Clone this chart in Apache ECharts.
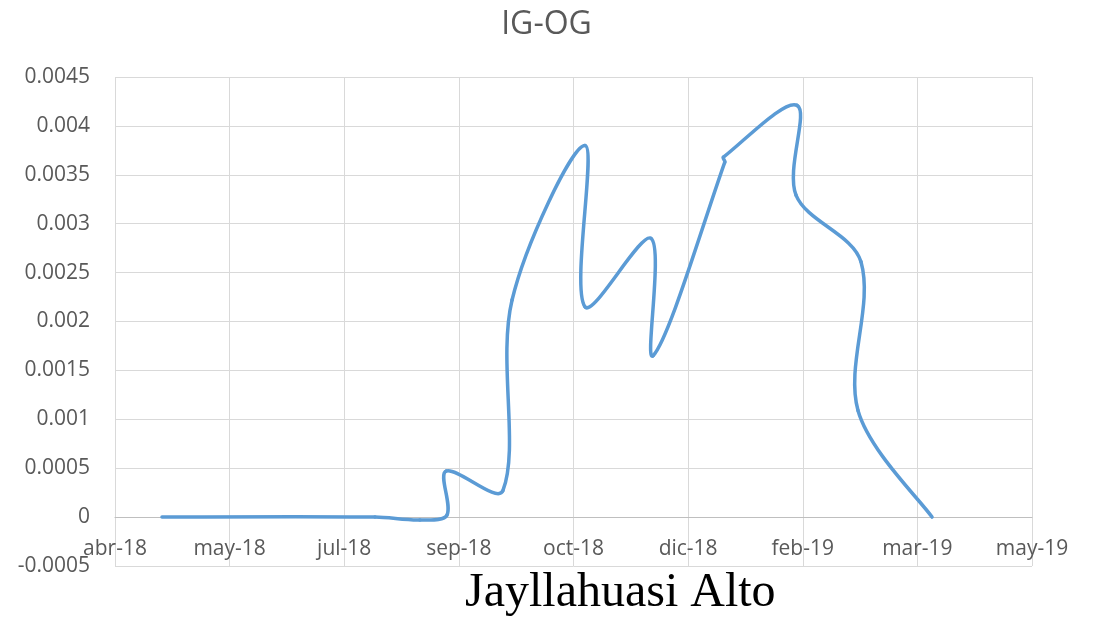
<!DOCTYPE html>
<html>
<head>
<meta charset="utf-8">
<script src="https://cdn.jsdelivr.net/npm/echarts@6/dist/echarts.min.js"></script>
<style>
  html, body { margin: 0; padding: 0; background: #fff; }
  #chart { width: 1093px; height: 619px; }
</style>
</head>
<body>
<div id="chart"></div>
<script>
// eje x: dias desde 10-abr-2018 (serial Excel 43200), paso de 50 dias
var tickLabels = ['abr-18', 'may-18', 'jul-18', 'sep-18', 'oct-18', 'dic-18', 'feb-19', 'mar-19', 'may-19'];
var days = [20.5, 113.4, 133.0, 144.8, 144.4, 169.2, 173.2, 205.0, 205.0, 233.8, 234.7, 266.0, 265.4, 297.5, 297.1, 325.4, 324.1, 356.4];
var values = [0, 0, -0.00003, 0.00002, 0.00047, 0.00027, 0.00222, 0.0038, 0.00215, 0.00285, 0.00165, 0.00363, 0.00368, 0.00421, 0.00329, 0.00261, 0.00109, 0];

var chart = echarts.init(document.getElementById('chart'));

var seriesData = [];
for (var i = 0; i < days.length - 1; i++) {
  seriesData.push([days[i], values[i]]);
}

function pt(api, j) {
  j = Math.max(0, Math.min(days.length - 1, j));
  return api.coord([days[j], values[j]]);
}
function dist(a, b) {
  return Math.sqrt((a[0] - b[0]) * (a[0] - b[0]) + (a[1] - b[1]) * (a[1] - b[1]));
}

// suavizado tipo Excel: tangente (P[i+1]-P[i-1]) repartida segun largo de tramos
function renderSeg(params, api) {
  var i = params.dataIndex;
  var p0 = pt(api, i - 1), p1 = pt(api, i), p2 = pt(api, i + 1), p3 = pt(api, i + 2);
  var s = 1 / 3;
  var a1 = dist(p0, p1), b1 = dist(p1, p2);
  var a2 = dist(p1, p2), b2 = dist(p2, p3);
  var f1 = (a1 + b1) > 0 ? s * b1 / (a1 + b1) : 0;
  var f2 = (a2 + b2) > 0 ? s * a2 / (a2 + b2) : 0;
  if (i === 0) f1 = s / 2;
  if (i === days.length - 2) f2 = s / 2;
  return {
    type: 'bezierCurve',
    shape: {
      x1: p1[0], y1: p1[1],
      x2: p2[0], y2: p2[1],
      cpx1: p1[0] + (p2[0] - p0[0]) * f1,
      cpy1: p1[1] + (p2[1] - p0[1]) * f1,
      cpx2: p2[0] - (p3[0] - p1[0]) * f2,
      cpy2: p2[1] - (p3[1] - p1[1]) * f2
    },
    style: { stroke: '#5b9bd5', lineWidth: 3.5, fill: null, lineCap: 'round' }
  };
}

var option = {
  animation: false,
  title: {
    text: 'IG-OG',
    left: 'center',
    top: 4,
    textStyle: { fontFamily: 'Open Sans', fontSize: 32, fontWeight: 'normal', color: '#595959' }
  },
  grid: { left: 115, right: 61, top: 77, bottom: 53 },
  xAxis: {
    type: 'value',
    min: 0,
    max: 400,
    interval: 50,
    offset: -49,
    axisLine: { onZero: false, lineStyle: { color: '#bfbfbf', width: 1 } },
    axisTick: { show: false },
    axisLabel: {
      margin: 22,
      fontFamily: 'Open Sans',
      fontSize: 21,
      color: '#595959',
      formatter: function (v) { return tickLabels[Math.round(v / 50)]; }
    },
    splitLine: { show: true, lineStyle: { color: '#d9d9d9', width: 1 } }
  },
  yAxis: {
    type: 'value',
    min: -0.0005,
    max: 0.0045,
    interval: 0.0005,
    axisLine: { show: false, onZero: false },
    axisTick: { show: false },
    axisLabel: {
      margin: 25,
      fontFamily: 'Open Sans',
      fontSize: 21,
      color: '#595959',
      formatter: function (v) { return String(parseFloat(v.toFixed(4))); }
    },
    splitLine: { show: true, lineStyle: { color: '#d9d9d9', width: 1 } }
  },
  graphic: [{
    type: 'text',
    left: 465,
    top: 569,
    style: { text: 'Jayllahuasi Alto', fontFamily: 'Liberation Serif', fontSize: 48, fill: '#000' }
  }],
  series: [{
    type: 'custom',
    renderItem: renderSeg,
    data: seriesData,
    z: 3
  }]
};

chart.setOption(option);
</script>
</body>
</html>
